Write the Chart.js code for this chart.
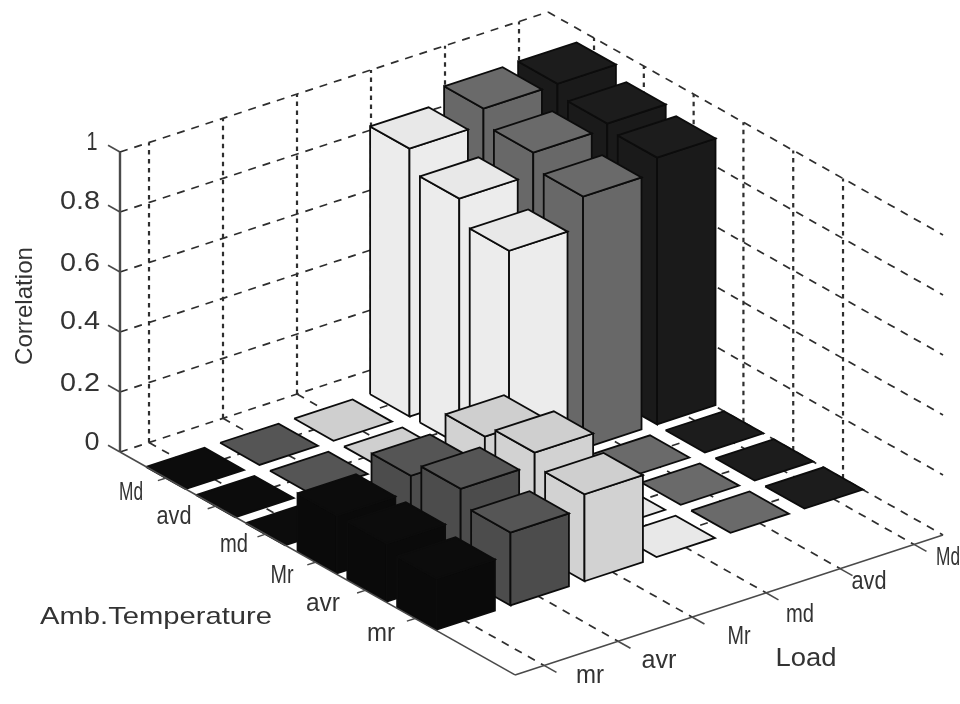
<!DOCTYPE html>
<html>
<head>
<meta charset="utf-8">
<title>Correlation</title>
<script src="https://cdn.jsdelivr.net/npm/chart.js@4/dist/chart.umd.min.js"></script>
<style>
    html, body { margin: 0; padding: 0; background: #fff; }
    canvas { display: block; filter: blur( 0.7px ); }
</style>
</head>
<body>
<canvas id="chart" width="960" height="704"></canvas>
<script>
// categories
const tempLabels = [ 'Md', 'avd', 'md', 'Mr', 'avr', 'mr' ];
const loadLabels = [ 'mr', 'avr', 'Mr', 'md', 'avd', 'Md' ];
const zTicks = [ 0, 0.2, 0.4, 0.6, 0.8, 1 ];

// correlation per load, one value per temperature
const loadMr = [ 0, 0, 0, 0.193, 0.193, 0.17 ];
const loadAvr = [ 0, 0, 0, 0.245, 0.295, 0.243 ];
const loadBigMr = [ 0, 0, 0, 0.295, 0.335, 0.29 ];
const loadMd = [ 0.893, 0.82, 0.74, 0, 0, 0 ];
const loadAvd = [ 0.946, 0.893, 0.84, 0, 0, 0 ];
const loadBigMd = [ 0.948, 0.909, 0.889, 0, 0, 0 ];
const series = [ loadMr, loadAvr, loadBigMr, loadMd, loadAvd, loadBigMd ];

const Colors = {
    faces: [ '#0a0a0a', '#4c4c4c', '#d2d2d2', '#ececec', '#686868', '#1a1a1a' ],
    tops: [ '#0c0c0c', '#555555', '#cfcfcf', '#e8e8e8', '#6a6a6a', '#1c1c1c' ],
    edge: '#0c0c0c',
    axis: '#4a4a4a',
    grid: '#2e2e2e',
    text: '#333333'
};

// oblique view of the box: the floor is a parallelogram, z goes straight up
const View = {
    x0: 120, y0: 452, zSize: 300,
    tx: 49.8, ty: 28.1, lx: 74, ly: -24.2,
    tMin: -0.924, tMax: 7.008, lMin: -0.392, lMax: 5.392,
    half: 0.395, barShift: 2
};
function project( t, l, z, shift ) {
    const dt = t - View.tMin, dl = l - View.lMin;
    return {
        x: View.x0 + dt * View.tx + dl * View.lx + ( shift || 0 ),
        y: View.y0 + dt * View.ty + dl * View.ly - z * View.zSize
    };
}

const datasets = [];
function addPath( points, opts ) {
    datasets.push( Object.assign( {
        data: points,
        showLine: true,
        pointRadius: 0,
        borderWidth: 1.5,
        borderColor: Colors.grid,
        backgroundColor: 'transparent',
        fill: false,
        tension: 0,
        clip: false
    }, opts ) );
}
function addGrid( a, b, vertical ) {
    addPath( [ a, b ], {
        borderDash: vertical ? [ 4.5, 4.5 ] : [ 8, 7 ],
        borderWidth: vertical ? 2.2 : 1.7
    } );
}
function addFace( corners, color ) {
    addPath( corners.concat( [ corners[ 0 ] ] ), {
        fill: 'shape',
        backgroundColor: color,
        borderColor: Colors.edge,
        borderWidth: 1.8
    } );
}
function addBar( t, l, value ) {
    const
        h = View.half, t0 = t - h, t1 = t + h, l0 = l - h, l1 = l + h,
        s = value > 0 ? View.barShift : 0;
    if ( value > 0 ) {
        addFace( [ project( t0, l0, 0, s ), project( t1, l0, 0, s ), project( t1, l0, value, s ), project( t0, l0, value, s ) ], Colors.faces[ l ] );
        addFace( [ project( t1, l0, 0, s ), project( t1, l1, 0, s ), project( t1, l1, value, s ), project( t1, l0, value, s ) ], Colors.faces[ l ] );
    }
    addFace( [ project( t0, l0, value, s ), project( t1, l0, value, s ), project( t1, l1, value, s ), project( t0, l1, value, s ) ], Colors.tops[ l ] );
}

// walls
zTicks.forEach( z => {
    addGrid( project( View.tMin, View.lMin, z ), project( View.tMin, View.lMax, z ) );
    addGrid( project( View.tMin, View.lMax, z ), project( View.tMax, View.lMax, z ) );
} );
loadLabels.forEach( ( _, l ) => addGrid( project( View.tMin, l, 0 ), project( View.tMin, l, 1 ), true ) );
tempLabels.forEach( ( _, t ) => addGrid( project( t, View.lMax, 0 ), project( t, View.lMax, 1 ), true ) );

// floor
loadLabels.forEach( ( _, l ) => addGrid( project( View.tMin, l, 0 ), project( View.tMax, l, 0 ) ) );
tempLabels.forEach( ( _, t ) => addGrid( project( t, View.lMin, 0 ), project( t, View.lMax, 0 ) ) );

// bars, back to front
tempLabels.forEach( ( _, t ) => {
    for ( let l = loadLabels.length - 1; l >= 0; l-- ) {
        addBar( t, l, series[ l ][ t ] );
    }
} );

// axes
function addAxis( a, b, width ) {
    addPath( [ a, b ], { borderColor: Colors.axis, borderWidth: width } );
}
addAxis( project( View.tMin, View.lMin, 0 ), project( View.tMin, View.lMin, 1 ), 2.4 );
addAxis( project( View.tMin, View.lMin, 0 ), project( View.tMax, View.lMin, 0 ), 1.6 );
addAxis( project( View.tMax, View.lMin, 0 ), project( View.tMax, View.lMax, 0 ), 1.6 );
zTicks.forEach( z => addAxis( project( View.tMin, View.lMin, z ), project( View.tMin - 0.24, View.lMin, z ), 1.6 ) );
tempLabels.forEach( ( _, t ) => addAxis( project( t, View.lMin, 0 ), project( t, View.lMin - 0.11, 0 ), 1.4 ) );
loadLabels.forEach( ( _, l ) => addAxis( project( View.tMax, l, 0 ), project( View.tMax + 0.25, l, 0 ), 1.6 ) );

// chart.js paints dataset 0 last
datasets.reverse();

// label centres, widths
const tempLabelPos = [ [ 131, 493, 24 ], [ 174, 517, 35 ], [ 234, 545, 28 ], [ 282, 576, 23 ], [ 323, 604, 34 ], [ 381, 634, 28 ] ];
const loadLabelPos = [ [ 590, 676, 28 ], [ 659, 661, 35 ], [ 739, 637, 23 ], [ 800, 615, 28 ], [ 869, 582, 35 ], [ 948, 558, 24 ] ];
const zLabelPos = [ [ 92, 443, 15 ], [ 80, 384, 40 ], [ 80, 322, 40 ], [ 80, 264, 40 ], [ 80, 202, 40 ], [ 92, 143, 11 ] ];

const labelsPlugin = {
    id: 'labels',
    afterDatasetsDraw( chart ) {
        const
            ctx = chart.ctx,
            sx = chart.scales.x,
            sy = chart.scales.y;
        function put( text, x, y, font, width, angle ) {
            ctx.save();
            ctx.font = font;
            ctx.fillStyle = Colors.text;
            ctx.textAlign = 'center';
            ctx.textBaseline = 'middle';
            ctx.translate( sx.getPixelForValue( x ), sy.getPixelForValue( y ) );
            if ( angle ) ctx.rotate( angle );
            ctx.scale( width / ctx.measureText( text ).width, 1 );
            ctx.fillText( text, 0, 0 );
            ctx.restore();
        }
        const small = '26px "Liberation Sans"', big = '26px "Liberation Sans"';
        tempLabels.forEach( ( s, i ) => put( s, tempLabelPos[ i ][ 0 ], tempLabelPos[ i ][ 1 ], small, tempLabelPos[ i ][ 2 ] ) );
        loadLabels.forEach( ( s, i ) => put( s, loadLabelPos[ i ][ 0 ], loadLabelPos[ i ][ 1 ], small, loadLabelPos[ i ][ 2 ] ) );
        zTicks.forEach( ( z, i ) => put( String( z ), zLabelPos[ i ][ 0 ], zLabelPos[ i ][ 1 ], big, zLabelPos[ i ][ 2 ] ) );
        put( 'Amb.Temperature', 156, 617, '24px "Liberation Sans"', 232 );
        put( 'Load', 806, 659, big, 61 );
        put( 'Correlation', 25, 306, '24px "Liberation Sans"', 118, -Math.PI / 2 );
    }
};

new Chart( document.getElementById( 'chart' ).getContext( '2d' ), {
    type: 'scatter',
    data: { datasets: datasets },
    plugins: [ labelsPlugin ],
    options: {
        responsive: false,
        animation: false,
        events: [],
        layout: { padding: 0 },
        plugins: {
            legend: { display: false },
            tooltip: { enabled: false }
        },
        scales: {
            x: { type: 'linear', display: false, min: 0, max: 960 },
            y: { type: 'linear', display: false, min: 0, max: 704, reverse: true }
        }
    }
} );
</script>
</body>
</html>
